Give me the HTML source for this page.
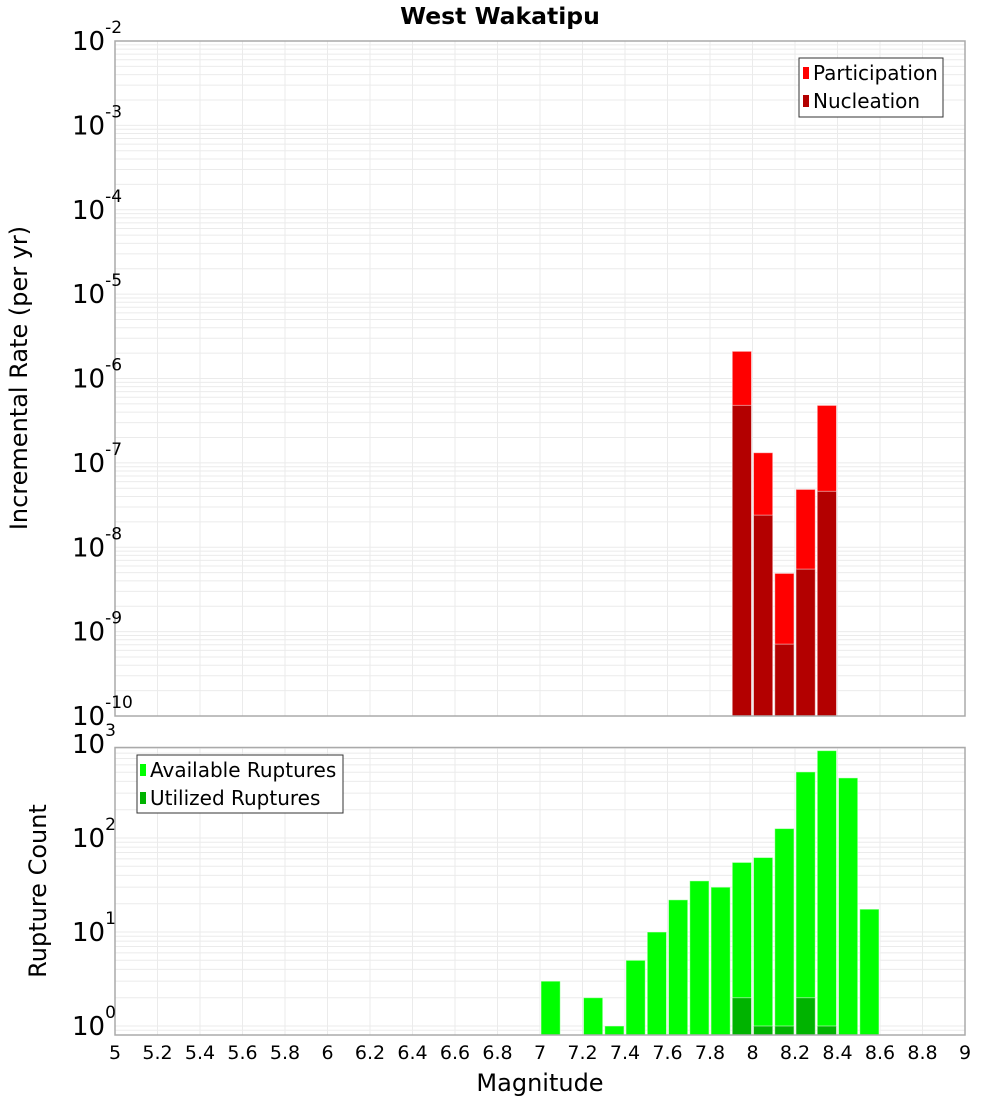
<!DOCTYPE html>
<html><head><meta charset="utf-8">
<style>
body{margin:0;background:#fff;}
svg{display:block;font-family:"Liberation Sans","DejaVu Sans",sans-serif;}
</style></head>
<body>
<svg id="chart" width="1000" height="1100" xmlns="http://www.w3.org/2000/svg">
<rect width="1000" height="1100" fill="#fff"/>
<text x="500" y="24" text-anchor="middle" font-size="23.5" font-weight="bold" font-family="DejaVu Sans, sans-serif">West Wakatipu</text>
<g id="gtop"></g>
<g id="gbot"></g>
<g id="labels"></g>
<text transform="translate(27,378) rotate(-90)" text-anchor="middle" font-size="24" font-family="DejaVu Sans, sans-serif">Incremental Rate (per yr)</text>
<text transform="translate(46,891) rotate(-90)" text-anchor="middle" font-size="24" font-family="DejaVu Sans, sans-serif">Rupture Count</text>
<text x="540" y="1091" text-anchor="middle" font-size="24" font-family="DejaVu Sans, sans-serif">Magnitude</text>
<g>
<rect x="799" y="58" width="144" height="59" fill="#fff" stroke="#333" stroke-width="1"/>
<rect x="803" y="67" width="6" height="12" fill="#ff0000"/>
<text x="813" y="80" font-size="20" font-family="DejaVu Sans, sans-serif">Participation</text>
<rect x="803" y="95" width="6" height="12" fill="#b30000"/>
<text x="813" y="108" font-size="20" font-family="DejaVu Sans, sans-serif">Nucleation</text>
</g>
<g>
<rect x="137" y="755" width="206" height="58" fill="#fff" stroke="#333" stroke-width="1"/>
<rect x="140" y="764" width="6" height="12" fill="#00ff00"/>
<text x="150" y="777" font-size="20" font-family="DejaVu Sans, sans-serif">Available Ruptures</text>
<rect x="140" y="792" width="6" height="12" fill="#00b300"/>
<text x="150" y="805" font-size="20" font-family="DejaVu Sans, sans-serif">Utilized Ruptures</text>
</g>
</svg>
<script>
const rateMags = [7.95, 8.05, 8.15, 8.25, 8.35];
const participation = [2.1e-6, 1.32e-7, 4.9e-9, 4.85e-8, 4.8e-7];
const nucleation = [4.8e-7, 2.4e-8, 7.1e-10, 5.5e-9, 4.6e-8];
const countMags = [7.05, 7.25, 7.35, 7.45, 7.55, 7.65, 7.75, 7.85, 7.95, 8.05, 8.15, 8.25, 8.35, 8.45, 8.55];
const available = [3, 2, 1, 5, 10, 22, 35, 30, 55, 62, 126, 505, 850, 436, 17.5];
const utilizedMags = [7.95, 8.05, 8.15, 8.25, 8.35];
const utilized = [2, 1, 1, 2, 1];
const xTicks = [5,5.2,5.4,5.6,5.8,6,6.2,6.4,6.6,6.8,7,7.2,7.4,7.6,7.8,8,8.2,8.4,8.6,8.8,9];
const rateExps = [-2,-3,-4,-5,-6,-7,-8,-9,-10];
const countExps = [3,2,1,0];

const NS = "http://www.w3.org/2000/svg";
const X0 = 115, X1 = 965;
function xs(m){ return X0 + (m - 5) / 4 * (X1 - X0); }
const T_TOP = 41, T_BOT = 716;
function ysTop(v){ return T_TOP + (-2 - Math.log10(v)) * (T_BOT - T_TOP) / 8; }
const B_TOP = 747.5, B_BOT = 1035;
function ysBot(v){ return 1026 - 94 * Math.log10(v); }

function mk(tag, attrs, parent){
  const e = document.createElementNS(NS, tag);
  for (const k in attrs) e.setAttribute(k, attrs[k]);
  parent.appendChild(e); return e;
}
const gTop = document.getElementById('gtop');
const gBot = document.getElementById('gbot');
const gLab = document.getElementById('labels');

function grid(g, y0, y1, ysf, exps){
  for (const t of xTicks){
    const l = mk('line',{x1:xs(t),x2:xs(t),y1:y0,y2:y1,stroke:'#ebebeb','stroke-width':1},g);
    
    
  }
  const lo = Math.min(...exps)-1, hi = Math.max(...exps)+1;
  for (let e = lo; e <= hi; e++){
    for (let k = 1; k < 10; k++){
      const y = ysf(k * Math.pow(10, e));
      if (y < y0 || y > y1) continue;
      const l = mk('line',{x1:X0,x2:X1,y1:y,y2:y,stroke:'#ebebeb','stroke-width':1},g);
      
      
    }
  }
}
grid(gTop, T_TOP, T_BOT, ysTop, rateExps);
grid(gBot, B_TOP, B_BOT, ysBot, countExps);

function bars(g, mags, vals, ysf, base, color, name){
  mags.forEach((m, i) => {
    const xa = xs(m - 0.05) + 1, xb = xs(m + 0.05) - 1;
    const y = ysf(vals[i]);
    const r = mk('rect',{x:xa,y:y,width:xb-xa,height:base-y,fill:color,stroke:'rgba(255,255,255,0.5)','stroke-width':1},g);
    
    
  });
}
bars(gTop, rateMags, participation, ysTop, T_BOT, '#ff0000', 'participation-bar');
bars(gTop, rateMags, nucleation, ysTop, T_BOT, '#b30000', 'nucleation-bar');
bars(gBot, countMags, available, ysBot, B_BOT, '#00ff00', 'available-bar');
bars(gBot, utilizedMags, utilized, ysBot, B_BOT, '#00b300', 'utilized-bar');

const f1 = mk('rect',{x:X0,y:T_TOP,width:X1-X0,height:T_BOT-T_TOP,fill:'none',stroke:'#aaa','stroke-width':1.5},gTop);


const f2 = mk('rect',{x:X0,y:B_TOP,width:X1-X0,height:B_BOT-B_TOP,fill:'none',stroke:'#aaa','stroke-width':1.5},gBot);



function ylabel(y, exp, name){
  const t = mk('text',{x:72,y:y+9,'font-size':26,'font-family':'DejaVu Sans, sans-serif'},gLab);
  
  
  t.appendChild(document.createTextNode('10'));
  const s = mk('tspan',{dy:-17,'font-size':17},t);
  s.textContent = String(exp);
}
rateExps.forEach(e => ylabel(ysTop(Math.pow(10,e)), e, 'y-tick-label-rate'));
countExps.forEach(e => ylabel(ysBot(Math.pow(10,e)), e, 'y-tick-label-count'));

xTicks.forEach(t => {
  const tx = mk('text',{x:xs(t),y:1059,'text-anchor':'middle','font-size':19,'font-family':'DejaVu Sans, sans-serif'},gLab);
  
  
  tx.textContent = String(t);
});
</script>
</body></html>
